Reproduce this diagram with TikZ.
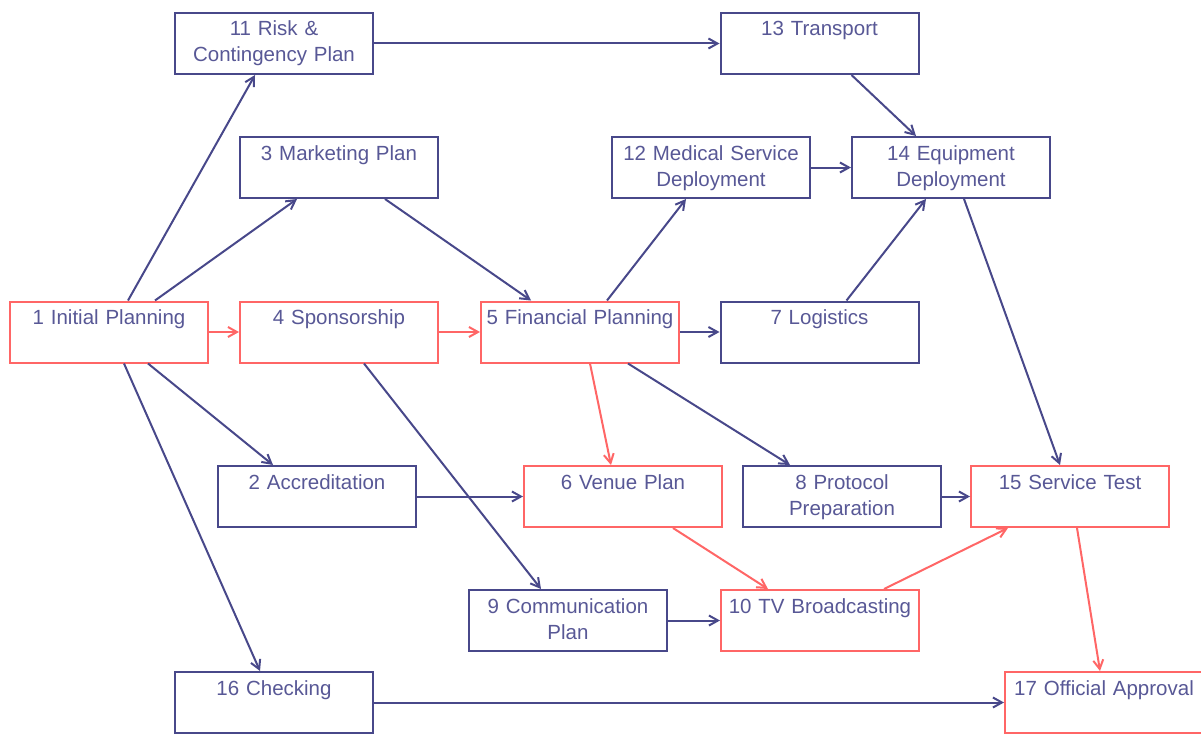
\documentclass[tikz,border=0pt]{standalone}
\usepackage{fontspec}
\setmainfont{Liberation Sans}
\usetikzlibrary{arrows.meta}
\definecolor{bl}{RGB}{72,72,138}
\definecolor{tx}{RGB}{88,88,150}
\definecolor{rd}{RGB}{255,102,102}
\tikzset{
  box/.style={draw=bl, line width=2pt, fill=white, minimum width=198pt, minimum height=61pt,
    text width=196pt, align=center, inner sep=0pt, text=tx,
    font=\fontsize{20.5}{26}\selectfont, text height=23pt, text depth=38pt},
  rbox/.style={box, draw=rd},
  edge/.style={draw=bl, line width=2pt, -{Straight Barb[length=9pt,width=10pt]}},
  redge/.style={edge, draw=rd},
}
\begin{document}
\begin{tikzpicture}[x=1pt,y=-1pt]
\useasboundingbox (0,0) rectangle (1201,733);
\node[rbox] (n1) at (109,332) {1 Initial Planning};
\node[rbox] (n4) at (339,332) {4 Sponsorship};
\node[rbox] (n5) at (580,332) {5 Financial Planning};
\node[box] (n7) at (819.5,332) {7 Logistics};
\node[box] (n11) at (274,43.5) {11 Risk \&\\Contingency Plan};
\node[box] (n13) at (819.5,43.5) {13 Transport};
\node[box] (n3) at (339,167.5) {3 Marketing Plan};
\node[box] (n12) at (711,167.5) {12 Medical Service\\Deployment};
\node[box] (n14) at (951,167.5) {14 Equipment\\Deployment};
\node[box] (n2) at (317,496.5) {2 Accreditation};
\node[rbox] (n6) at (623,496.5) {6 Venue Plan};
\node[box] (n8) at (842,496.5) {8 Protocol\\Preparation};
\node[rbox] (n15) at (1070,496.5) {15 Service Test};
\node[box] (n9) at (568,620.5) {9 Communication\\Plan};
\node[rbox] (n10) at (820,620.5) {10 TV Broadcasting};
\node[box] (n16) at (274,702.5) {16 Checking};
\node[rbox] (n17) at (1104,702.5) {17 Official Approval};

\draw[edge] ([xshift=19pt]n1.north) -- ([xshift=-19pt]n11.south);
\draw[edge] ([xshift=46pt]n1.north) -- ([xshift=-42pt]n3.south);
\draw[redge] (n1.east) -- (n4.west);
\draw[edge] ([xshift=39pt]n1.south) -- ([xshift=-44pt]n2.north);
\draw[edge] ([xshift=15pt]n1.south) -- ([xshift=-14pt]n16.north);
\draw[edge] (n11.east) -- (n13.west);
\draw[edge] ([xshift=32pt]n13.south) -- ([xshift=-35pt]n14.north);
\draw[edge] ([xshift=46pt]n3.south) -- ([xshift=-49pt]n5.north);
\draw[redge] (n4.east) -- (n5.west);
\draw[edge] ([xshift=25pt]n4.south) -- ([xshift=-27pt]n9.north);
\draw[edge] ([xshift=27pt]n5.north) -- ([xshift=-25pt]n12.south);
\draw[edge] (n5.east) -- (n7.west);
\draw[redge] ([xshift=10pt]n5.south) -- ([xshift=-12pt]n6.north);
\draw[edge] ([xshift=48pt]n5.south) -- ([xshift=-52pt]n8.north);
\draw[edge] (n12.east) -- (n14.west);
\draw[edge] ([xshift=27pt]n7.north) -- ([xshift=-25pt]n14.south);
\draw[edge] ([xshift=13pt]n14.south) -- ([xshift=-10pt]n15.north);
\draw[edge] (n2.east) -- (n6.west);
\draw[edge] (n8.east) -- (n15.west);
\draw[redge] ([xshift=50pt]n6.south) -- ([xshift=-52pt]n10.north);
\draw[edge] (n9.east) -- (n10.west);
\draw[redge] ([xshift=64pt]n10.north) -- ([xshift=-62pt]n15.south);
\draw[redge] ([xshift=7pt]n15.south) -- ([xshift=-4pt]n17.north);
\draw[edge] (n16.east) -- (n17.west);
\end{tikzpicture}
\end{document}
